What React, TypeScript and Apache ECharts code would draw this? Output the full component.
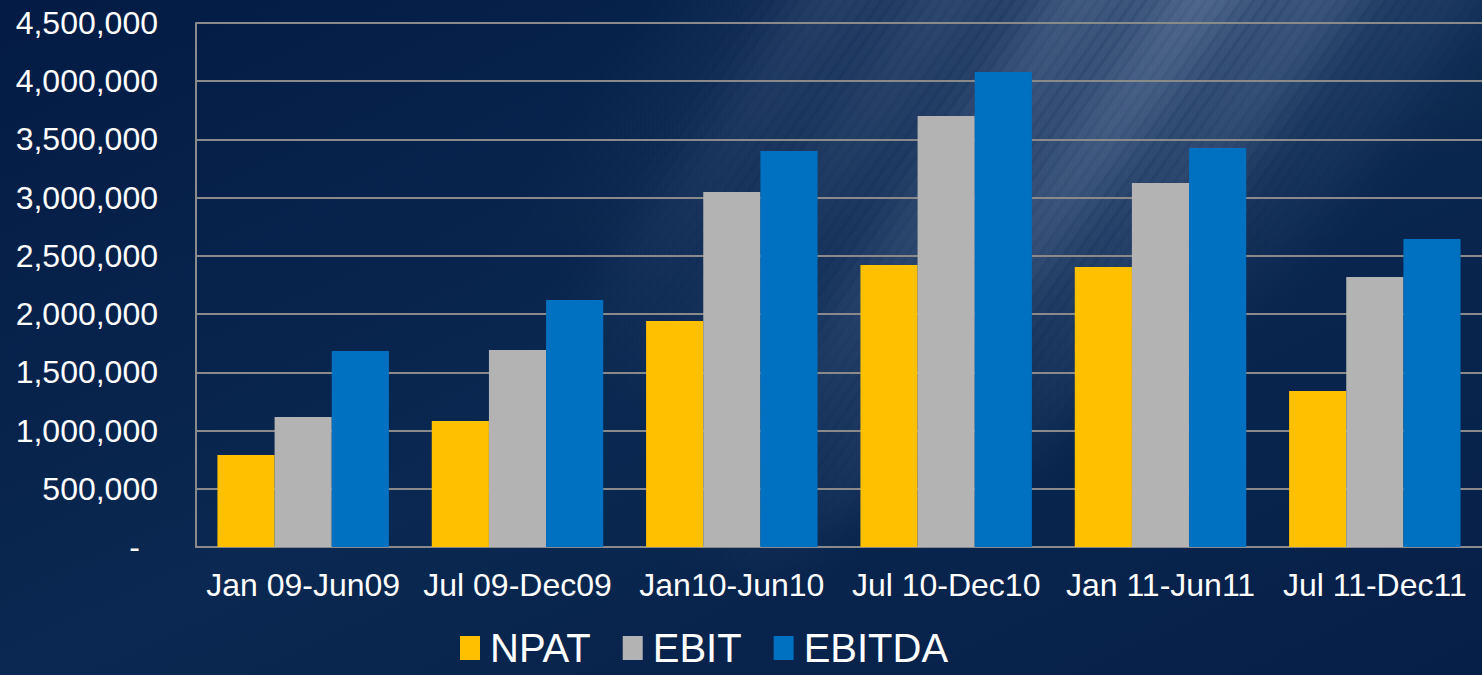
import React, { useEffect, useRef } from "react";
import * as echarts from "echarts";

const categories = ["Jan 09-Jun09", "Jul 09-Dec09", "Jan10-Jun10", "Jul 10-Dec10", "Jan 11-Jun11", "Jul 11-Dec11"];
const npat = [790000, 1082000, 1941000, 2422000, 2405000, 1340000];
const ebit = [1116000, 1692000, 3049000, 3701000, 3126000, 2319000];
const ebitda = [1683000, 2121000, 3401000, 4079000, 3427000, 2645000];
const seriesNames = ["NPAT", "EBIT", "EBITDA"];
const seriesColors = ["#FFC000", "#B3B3B3", "#0070C0"];

const W = 1482;
const H = 675;
const FONT = "Liberation Sans, Arial, sans-serif";

function buildRays() {
  const out: any[] = [];
  const slope = 0.7;
  for (let c = 560; c <= 1780; c += 12) {
    const g = Math.exp(-Math.pow((c - 1150) / 210, 2));
    const g2 = 0.35 * Math.exp(-Math.pow((c - 820) / 120, 2));
    const a = 0.085 * (g + g2) * (0.75 + 0.25 * Math.sin(c * 0.05));
    if (a < 0.003) continue;
    const L = 300 + 220 * g + 100 * Math.abs(Math.sin(c * 0.013));
    const w = 80;
    out.push({
      type: "polygon",
      z: -10,
      silent: true,
      shape: {
        points: [
          [c, 0],
          [c + w, 0],
          [c + w - slope * L, L],
          [c - slope * L, L],
        ],
      },
      style: {
        fill: new echarts.graphic.LinearGradient(0, 0, 0, 1, [
          { offset: 0, color: `rgba(180,196,228,${a})` },
          { offset: 0.45, color: `rgba(180,196,228,${a * 0.55})` },
          { offset: 1, color: "rgba(180,196,228,0)" },
        ]),
      },
    });
  }
  return out;
}

export default function App() {
  const ref = useRef<HTMLDivElement>(null);
  useEffect(() => {
    if (!ref.current) return;
    const chart = echarts.init(ref.current, null, { renderer: "svg" });
    const data = [npat, ebit, ebitda];
    chart.setOption({
      animation: false,
      backgroundColor: new echarts.graphic.LinearGradient(0, 0, 1, 1, [
        { offset: 0, color: "#031b45" },
        { offset: 0.5, color: "#0a2851" },
        { offset: 1, color: "#061f48" },
      ]),
      graphic: buildRays(),
      grid: { left: 196, top: 23, width: 1293, height: 524 },
      legend: {
        data: seriesNames,
        top: 621,
        left: 455,
        itemWidth: 20,
        itemHeight: 24,
        itemGap: 32,
        icon: "rect",
        textStyle: { color: "#ffffff", fontSize: 40, lineHeight: 44, fontFamily: FONT, padding: [0, 0, 0, 5] },
      },
      xAxis: {
        type: "category",
        data: categories,
        axisLine: { show: true, lineStyle: { color: "#8a8a8a", width: 2 } },
        axisTick: { show: false },
        axisLabel: { color: "#ffffff", fontSize: 32, margin: 22, fontFamily: FONT, interval: 0 },
      },
      yAxis: {
        type: "value",
        min: 0,
        max: 4500000,
        interval: 500000,
        axisLine: { show: true, lineStyle: { color: "#8a8a8a", width: 2 } },
        axisTick: { show: false },
        splitLine: { show: true, lineStyle: { color: "#8a8a8a", width: 2 } },
        axisLabel: {
          color: "#ffffff",
          fontSize: 32,
          margin: 38,
          fontFamily: FONT,
          formatter: (v: number) => (v === 0 ? "{d|-}" : v.toLocaleString("en-US")),
          rich: { d: { color: "#ffffff", fontSize: 32, padding: [0, 18, 0, 0], fontFamily: FONT } },
        },
      },
      series: seriesNames.map((name, i) => ({
        name,
        type: "bar",
        data: data[i],
        barGap: "0%",
        barCategoryGap: "20%",
        itemStyle: { color: seriesColors[i] },
      })),
    });
    return () => chart.dispose();
  }, []);
  return <div ref={ref} style={{ width: W, height: H, position: "absolute", left: 0, top: 0 }} />;
}
